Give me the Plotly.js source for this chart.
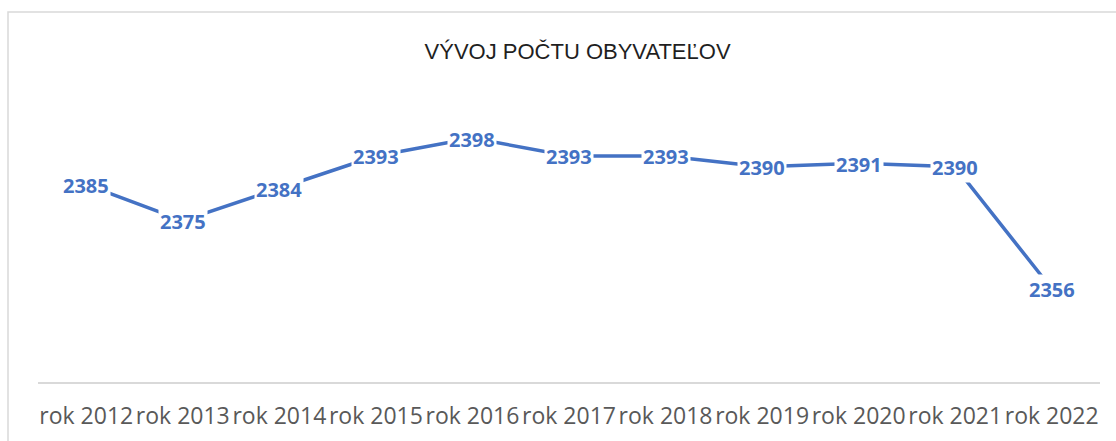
<!DOCTYPE html>
<html>
<head>
<meta charset="utf-8">
<script src="https://cdn.plot.ly/plotly-3.0.1.min.js"></script>
<style>
  html, body { margin: 0; padding: 0; background: #ffffff; }
  #chart { width: 1116px; height: 441px; }
</style>
</head>
<body>
<div id="chart"></div>
<script>
// ---- data ----
const categories = ["rok 2012", "rok 2013", "rok 2014", "rok 2015", "rok 2016", "rok 2017", "rok 2018", "rok 2019", "rok 2020", "rok 2021", "rok 2022"];
const population = [2385, 2375, 2384, 2393, 2398, 2393, 2393, 2390, 2391, 2390, 2356];
const chartTitle = "VÝVOJ POČTU OBYVATEĽOV";

const blue = "#4472C4";

const trace = {
  type: "scatter",
  mode: "lines",
  x: categories,
  y: population,
  line: { color: blue, width: 3.5 },
  hoverinfo: "skip",
  showlegend: false
};

const labelAnnotations = categories.map((c, i) => ({
  x: i,
  y: population[i],
  xref: "x",
  yref: "y",
  text: "<b>" + population[i] + "</b>",
  showarrow: false,
  xanchor: "center",
  yanchor: "middle",
  yshift: -1,
  bgcolor: "#ffffff",
  borderpad: 1,
  font: { family: "Open Sans, sans-serif", size: 20, color: blue }
}));

const layout = {
  width: 1116,
  height: 441,
  margin: { l: 38, r: 16, t: 95, b: 59 },
  paper_bgcolor: "#ffffff",
  plot_bgcolor: "#ffffff",
  title: {
    text: chartTitle,
    x: 567 / 1116,
    xanchor: "center",
    xref: "paper",
    y: 1 - 51 / 441,
    yref: "container",
    yanchor: "middle",
    font: { family: "Liberation Sans, Arial, sans-serif", size: 22, color: "#1f1f1f" }
  },
  xaxis: {
    type: "category",
    range: [-0.5, 10.5],
    tickangle: 0,
    showgrid: false,
    zeroline: false,
    showline: true,
    linecolor: "#d9d9d9",
    linewidth: 1.5,
    ticks: "",
    ticklabelstandoff: 13,
    tickfont: { family: "Open Sans, sans-serif", size: 23, color: "#595959" },
    fixedrange: true
  },
  yaxis: {
    range: [2330, 2410],
    showgrid: false,
    zeroline: false,
    showline: false,
    showticklabels: false,
    ticks: "",
    fixedrange: true
  },
  shapes: [{
    type: "rect",
    xref: "paper",
    yref: "paper",
    x0: (8 - 38) / 1062,
    x1: (1140 - 38) / 1062,
    y0: (382 - 470) / 287,
    y1: (382 - 12) / 287,
    line: { color: "#d9d9d9", width: 1.5 },
    fillcolor: "rgba(0,0,0,0)",
    layer: "below"
  }],
  annotations: labelAnnotations
};

Plotly.newPlot("chart", [trace], layout, { displayModeBar: false, staticPlot: true });
</script>
</body>
</html>
